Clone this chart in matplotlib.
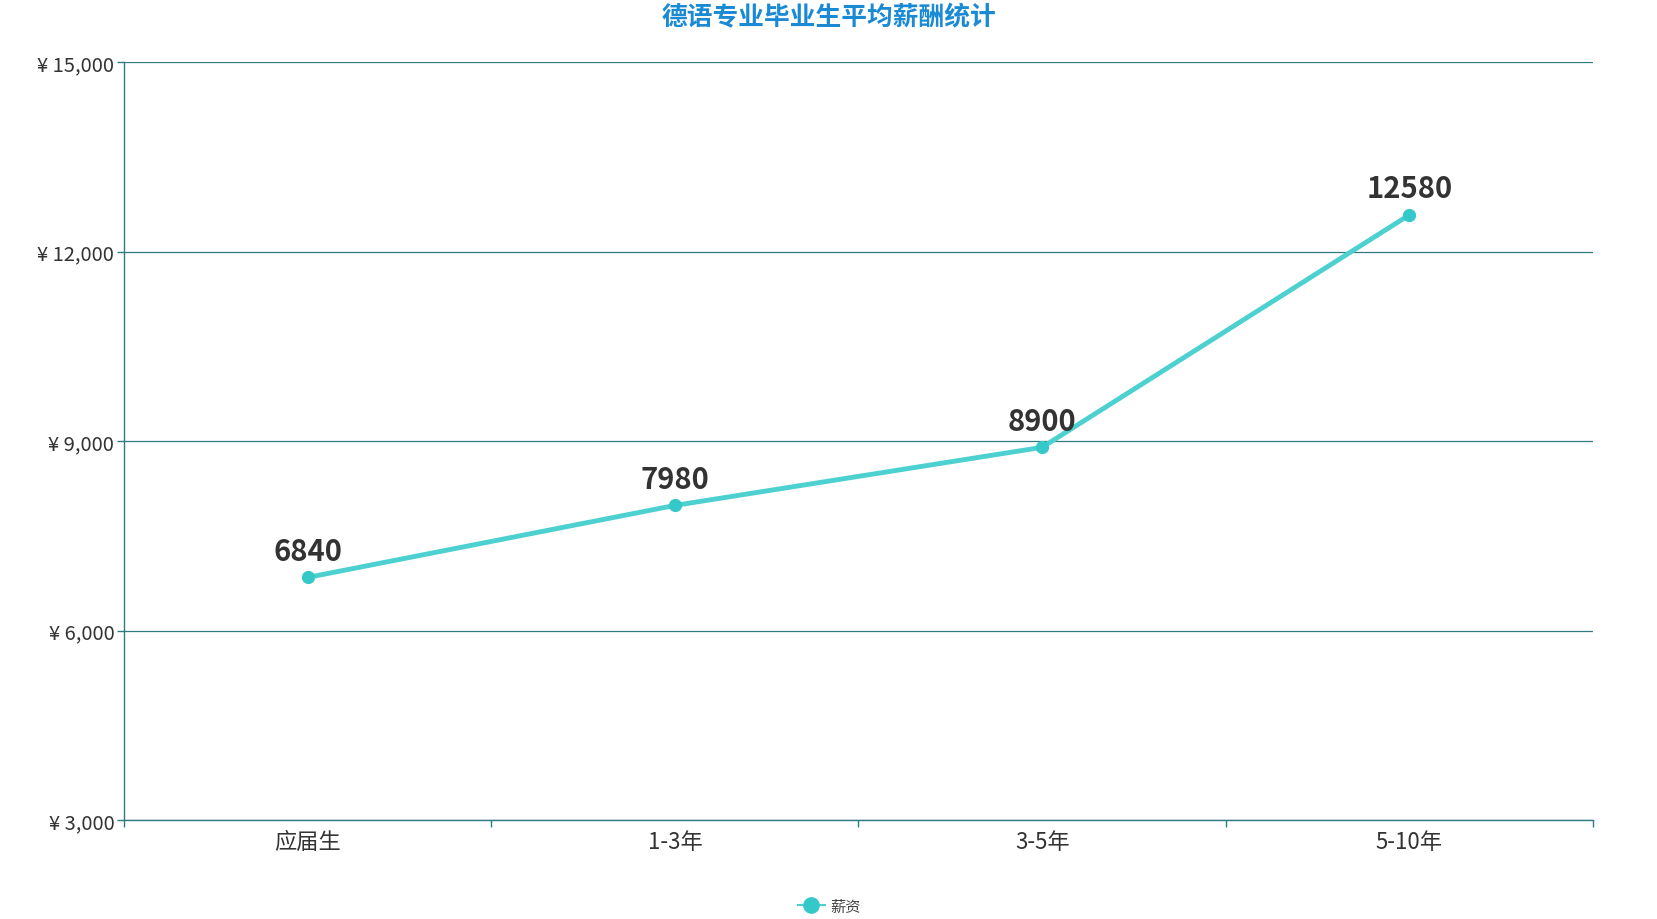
import matplotlib.pyplot as plt
from matplotlib.lines import Line2D

plt.rcParams['font.family'] = ['Noto Sans CJK SC', 'DejaVu Sans']

# 数据
categories = ['应届生', '1-3年', '3-5年', '5-10年']
salary = [6840, 7980, 8900, 12580]
y_ticks = [3000, 6000, 9000, 12000, 15000]

line_color = '#4dd0d0'
axis_color = '#2f7b80'
text_color = '#333333'

fig = plt.figure(figsize=(16.58, 9.2), dpi=100)
ax = fig.add_axes([124 / 1658, 1 - 821 / 920, (1593 - 124) / 1658, (821 - 63) / 920])

x = list(range(len(categories)))
ax.plot(x, salary, color=line_color, linewidth=3.5, marker='o', markersize=8.5,
        markerfacecolor='#35c8c8', markeredgecolor='#35c8c8', zorder=3)

for xi, v in zip(x, salary):
    ax.annotate(str(v), (xi, v), xytext=(0, 8.5), textcoords='offset points',
                ha='center', va='bottom', fontsize=21, fontweight='bold', color=text_color)

ax.set_xlim(-0.5, len(categories) - 0.5)
ax.set_ylim(3000, 15000)
ax.set_xticks(x)
ax.set_xticklabels(categories, fontsize=16, color=text_color)
ax.set_xticks([i - 0.5 for i in range(len(categories) + 1)], minor=True)
ax.tick_params(axis='x', which='major', length=0, pad=7)
ax.tick_params(axis='x', which='minor', length=5, color=axis_color, width=1)

ax.set_yticks(y_ticks)
ax.set_yticklabels(['¥ ' + format(t, ',') for t in y_ticks], fontsize=14.5, color=text_color)
ax.tick_params(axis='y', length=5, color=axis_color, width=1, pad=2)

ax.grid(axis='y', color=axis_color, linewidth=0.9)
ax.set_axisbelow(True)
for s in ['top', 'right']:
    ax.spines[s].set_visible(False)
for s in ['left', 'bottom']:
    ax.spines[s].set_color(axis_color)
    ax.spines[s].set_linewidth(1)

fig.text(0.5, 1 - 18 / 920, '德语专业毕业生平均薪酬统计', ha='center', va='center',
         fontsize=18.5, fontweight='bold', color='#1a8ad4')

handle = Line2D([], [], color=line_color, linewidth=1.5, marker='o', markersize=11,
                markerfacecolor='#35c8c8', markeredgecolor='#35c8c8')
fig.legend([handle], ['薪资'], loc='center', bbox_to_anchor=(829 / 1658, 1 - 907 / 920),
           frameon=False, fontsize=11, handlelength=1.8, handletextpad=0.3,
           labelcolor='#444444')

fig.savefig('out.png', dpi=100)
